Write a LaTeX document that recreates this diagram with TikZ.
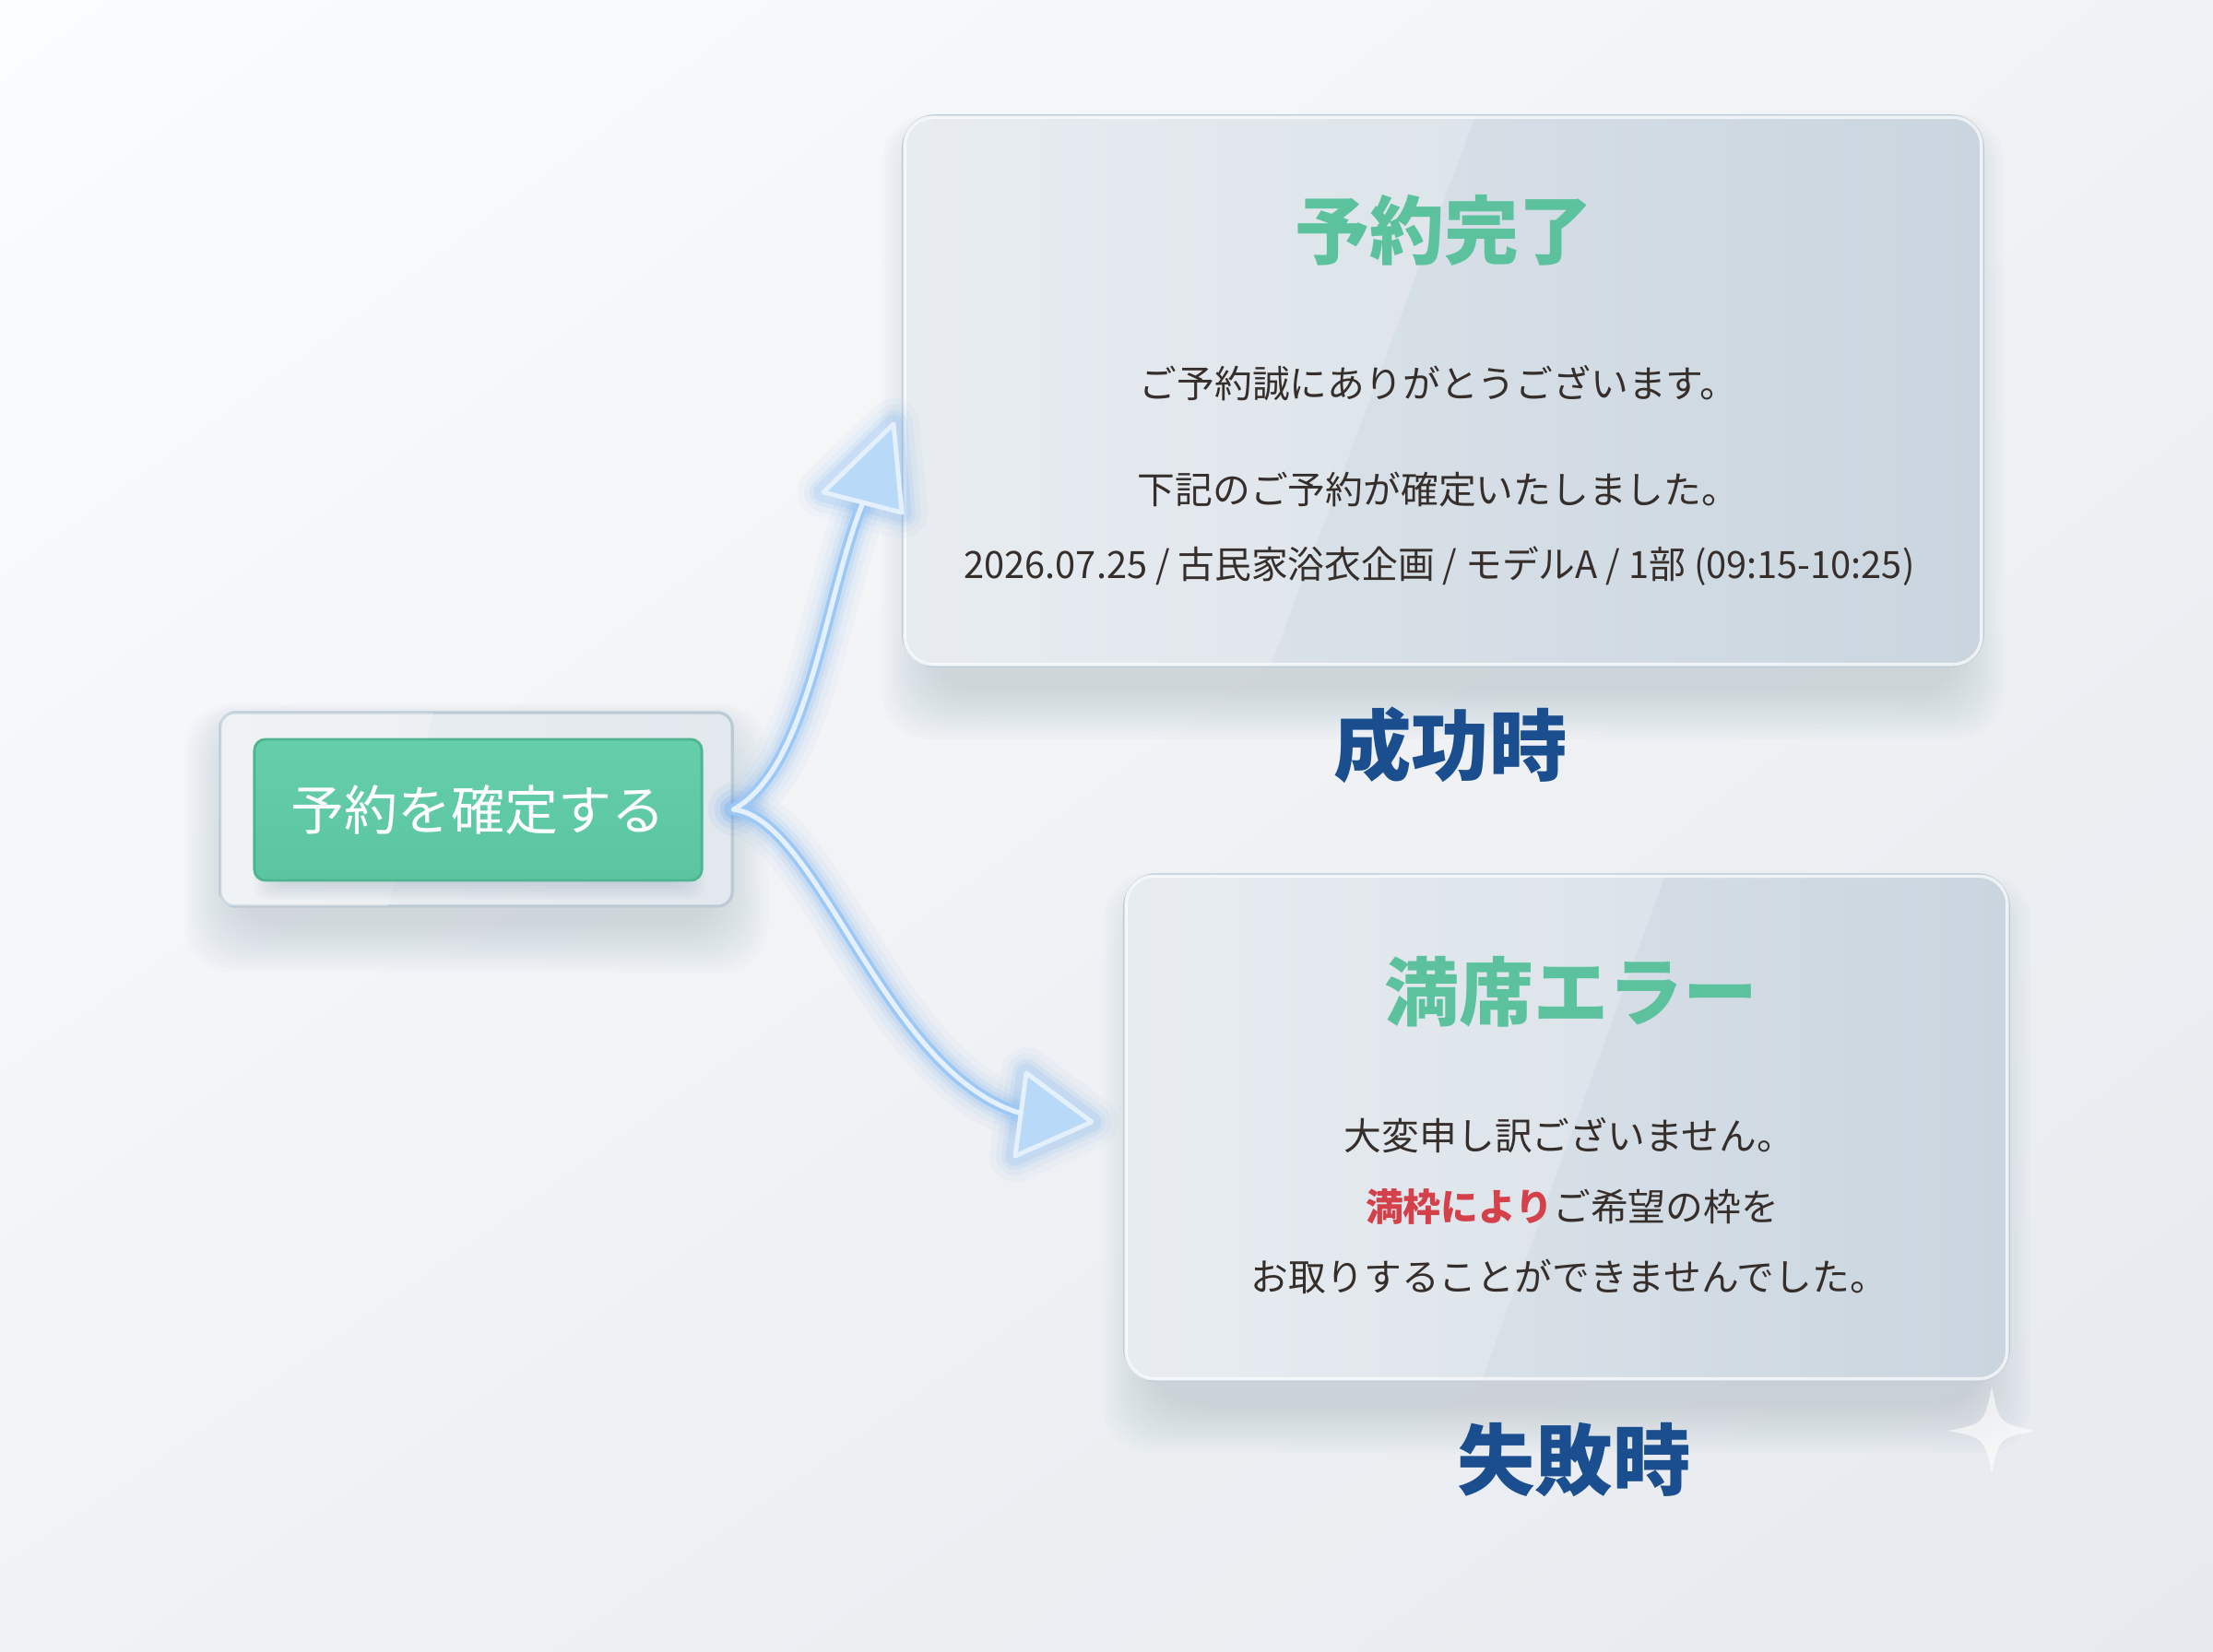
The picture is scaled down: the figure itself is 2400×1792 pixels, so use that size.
\documentclass[tikz,border=0pt]{standalone}
\usepackage{fontspec}
\setmainfont{Noto Sans CJK JP}
\newfontfamily\jpc[FakeStretch=0.975]{Noto Sans CJK JP}
\usetikzlibrary{calc,shadings}
\pgfdeclarelayer{back}
\pgfdeclarelayer{shade}
\pgfsetlayers{back,shade,main}
\definecolor{bgA}{HTML}{FBFCFD}
\definecolor{bgB}{HTML}{F0F2F5}
\definecolor{bgC}{HTML}{E6E9EE}
\definecolor{glassA}{HTML}{E2E8ED}
\definecolor{glassB}{HTML}{CAD5DF}
\definecolor{edge}{HTML}{BCCAD5}
\definecolor{shadowc}{HTML}{8A9BB0}
\definecolor{mint}{HTML}{5CC29E}
\definecolor{btnA}{HTML}{65CEAB}
\definecolor{btnB}{HTML}{5BC5A1}
\definecolor{btnedge}{HTML}{4EB590}
\definecolor{ink}{HTML}{352E2B}
\definecolor{navy}{HTML}{1B4E8E}
\definecolor{alert}{HTML}{D4414B}
\definecolor{glow}{HTML}{5FA4EE}
\definecolor{arrowfill}{HTML}{B9D9F8}
\definecolor{arrowmid}{HTML}{9DC8F5}
\definecolor{arrowcore}{HTML}{E4F1FD}
\newcommand\glassshadow[3]{% node, down shift, spread
  \foreach \k in {0,...,13}{
    \fill[shadowc, opacity=0.025, rounded corners=0.5cm]
      ($(#1.north west)+(#3-\k*4, #2-\k*2)$) rectangle ($(#1.south east)+(-#3+\k*4, #2+\k*4)$);
  }}
\begin{document}
\begin{tikzpicture}[x=0.01cm,y=-0.01cm,
  glass/.style={rounded corners=#1, left color=glassA, right color=glassB, draw=edge, line width=0.9pt},
  glass/.default=0.34cm,
  btnbox/.style={rounded corners=0.12cm, top color=btnA, bottom color=btnB, draw=btnedge, line width=0.8pt,
    text=white, font=\fontsize{16.5}{19}\selectfont},
  titletext/.style={text=mint, font=\fontsize{23}{28}\selectfont\bfseries, inner sep=0pt},
  body/.style={text=ink, font=\fontsize{11.6}{14}\selectfont, inner sep=0pt},
  caption/.style={text=navy, font=\fontsize{24}{29}\selectfont\bfseries, inner sep=0pt},
  glowline/.style={glow, line cap=round, line join=round},
  shaft/.style={arrowmid, line width=3.6pt, line cap=round},
  shaftcore/.style={arrowcore, line width=1.5pt, line cap=round},
  headshape/.style={fill=arrowfill, draw=arrowcore, line width=1.4pt, line join=round},
]
\useasboundingbox (0,0) rectangle (2400,1792);
\begin{pgfonlayer}{back}
  \shade[upper left=bgA, upper right=bgB, lower left=bgB, lower right=bgC] (0,0) rectangle (2400,1792);
\end{pgfonlayer}

% ---- nodes
\node[glass=0.16cm, left color=glassA!70!white, right color=glassA, minimum width=5.55cm, minimum height=2.10cm] (btn) at (516.5,878) {};
\begin{scope}
  \clip[rounded corners=0.16cm] (btn.north west) rectangle (btn.south east);
  \fill[white, opacity=0.25] (239,773) -- (470,773) -- (421,983) -- (239,983) -- cycle;
\end{scope}
\foreach \k in {0,...,6}{
  \fill[shadowc, opacity=0.05, rounded corners=0.14cm] (300-\k*4,830-\k*2) rectangle (740+\k*4,958+\k*3);
}
\node[btnbox, minimum width=4.85cm, minimum height=1.53cm] (go) at (518.5,878.5) {予約を確定する};

\node[glass, minimum width=11.7cm, minimum height=5.96cm] (ok) at (1565,424) {};
\begin{scope}
  \clip[rounded corners=0.34cm] (ok.north west) rectangle (ok.south east);
  \fill[white, opacity=0.2] (980,126) -- (1600,126) -- (1378,722) -- (980,722) -- cycle;
\end{scope}
\draw[white, opacity=0.75, line width=1pt, rounded corners=0.31cm] ($(ok.north west)+(3,3)$) rectangle ($(ok.south east)+(-3,-3)$);

\node[glass, minimum width=9.58cm, minimum height=5.48cm] (ng) at (1699,1223) {};
\begin{scope}
  \clip[rounded corners=0.34cm] (ng.north west) rectangle (ng.south east);
  \fill[white, opacity=0.2] (1220,949) -- (1806,949) -- (1607,1497) -- (1220,1497) -- cycle;
\end{scope}
\draw[white, opacity=0.75, line width=1pt, rounded corners=0.31cm] ($(ng.north west)+(3,3)$) rectangle ($(ng.south east)+(-3,-3)$);

\begin{pgfonlayer}{shade}
  \glassshadow{ok}{26}{30}
  \glassshadow{ng}{26}{30}
  \glassshadow{btn}{18}{15}
\end{pgfonlayer}

% ---- texts
\node[titletext] (okT) at (1566,250) {予約完了};
\node[body] (ok1) at (1560,416) {ご予約誠にありがとうございます。};
\node[body] (ok2) at (1560,531) {下記のご予約が確定いたしました。};
\node[body, font=\fontsize{11.6}{14}\jpc] (ok3) at (1561,614) {2026.07.25 / 古民家浴衣企画 / モデルA / 1部 (09:15-10:25)};
\node[caption] (okC) at (1573,808) {成功時};

\node[titletext] (ngT) at (1704,1076) {満席エラー};
\node[body] (ng1) at (1702,1232) {大変申し訳ございません。};
\node[body] (ng2) at (1705,1309) {{\color{alert}\bfseries 満枠により}ご希望の枠を};
\node[body] (ng3) at (1702,1385) {お取りすることができませんでした。};
\node[caption] (ngC) at (1707,1584) {失敗時};

% ---- sparkle
\fill[white, opacity=0.6] (2160,1504) .. controls (2168,1544) .. (2207,1552)
  .. controls (2168,1560) .. (2160,1598) .. controls (2152,1560) .. (2113,1552)
  .. controls (2152,1544) .. cycle;

% ---- connectors
\coordinate (okTip) at (969,460);
\coordinate (okL) at (893,534);
\coordinate (okR) at (978,556);
\coordinate (okBase) at (938,540);
\coordinate (ngTip) at (1184,1217);
\coordinate (ngL) at (1113,1164);
\coordinate (ngR) at (1101,1254);
\coordinate (ngBase) at (1112,1209);

\foreach \w/\o in {16/0.04, 12/0.06, 8.5/0.09, 6/0.12}{
  \draw[glowline, line width=\w pt, opacity=\o] (btn.east) .. controls (880,830) and (895,640) .. (okBase);
  \draw[glowline, line width=\w pt, opacity=\o] (btn.east) .. controls (890,890) and (960,1170) .. (ngBase);
  \draw[glowline, line width=\w pt, opacity=\o, fill=glow, fill opacity=0.05] (okTip) -- (okL) -- (okR) -- cycle;
  \draw[glowline, line width=\w pt, opacity=\o, fill=glow, fill opacity=0.05] (ngTip) -- (ngL) -- (ngR) -- cycle;
}
\draw[shaft] (btn.east) .. controls (880,830) and (895,640) .. (okBase);
\draw[shaft] (btn.east) .. controls (890,890) and (960,1170) .. (ngBase);
\draw[shaftcore] (btn.east) .. controls (880,830) and (895,640) .. (okBase);
\draw[shaftcore] (btn.east) .. controls (890,890) and (960,1170) .. (ngBase);
\draw[headshape] (okTip) -- (okL) -- (okR) -- cycle;
\draw[headshape] (ngTip) -- (ngL) -- (ngR) -- cycle;
\end{tikzpicture}
\end{document}
